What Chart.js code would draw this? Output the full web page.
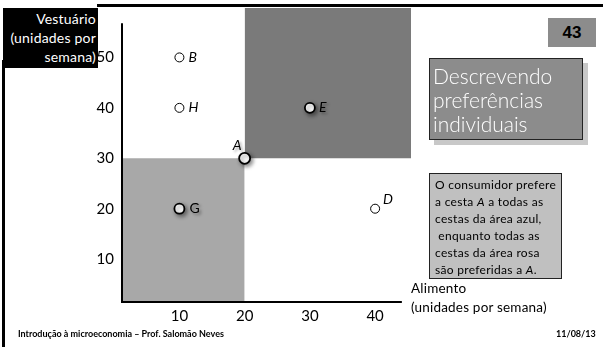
<!DOCTYPE html>
<html>
<head>
<meta charset="utf-8">
<script src="https://cdn.jsdelivr.net/npm/chart.js@4.4.0/dist/chart.umd.min.js"></script>
<style>
  body { margin: 0; width: 609px; height: 347px; overflow: hidden; background: #fff; font-family: "Lato", sans-serif; }
  #wrap { position: absolute; left: 0; top: 0; width: 609px; height: 347px; }
  .abs { position: absolute; }
  #ylab { left: 3px; top: 8px; width: 95px; height: 60px; background: #000; color: #fff; font-size: 14px; letter-spacing: 0.2px; line-height: 19px; text-align: right; box-sizing: border-box; padding: 1px 2px 0 0; }
  #topline { left: 97px; top: 4px; width: 506px; height: 3px; background: #000; }
  #leftline { left: 2px; top: 60px; width: 3px; height: 287px; background: #000; }
  #num { left: 548px; top: 18px; width: 48px; height: 29px; background: #8c8c8c; font-family: "Liberation Sans", Arial, sans-serif; font-weight: bold; font-size: 17px; line-height: 29px; text-align: center; }
  #title { left: 429px; top: 58px; width: 154px; height: 82px; background: #8c8c8c; border: 1px solid #222; box-sizing: border-box; color: #fff; font-size: 21px; font-weight: 300; line-height: 24px; padding: 5px 0 0 3px; box-shadow: 5px 5px 0 #c8c8c8; }
  #note { left: 429px; top: 173px; width: 133px; height: 106px; background: #c0c0c0; border: 1px solid #222; box-sizing: border-box; font-size: 12px; letter-spacing: 0.3px; line-height: 17px; padding: 2px 0 0 5px; white-space: pre; }
  #xlab { left: 411px; top: 279px; font-size: 13.5px; letter-spacing: 0.2px; line-height: 19px; white-space: pre; }
  #foot { left: 18px; top: 328px; font-size: 9px; font-weight: bold; }
  #date { left: 556px; top: 328px; font-size: 9px; font-weight: bold; }
</style>
</head>
<body>
<div id="wrap">
  <canvas id="chart" width="609" height="347"></canvas>
</div>
<div class="abs" id="topline"></div>
<div class="abs" id="leftline"></div>
<div class="abs" id="ylab">Vestuário<br>(unidades por<br>semana)</div>
<div class="abs" id="num">43</div>
<div class="abs" id="title">Descrevendo<br>preferências<br>individuais</div>
<div class="abs" id="note">O consumidor prefere
a cesta <i>A</i> a todas as
cestas da área azul,
 enquanto todas as
cestas da área rosa
são preferidas a <i>A</i>.</div>
<div class="abs" id="xlab">Alimento
(unidades por semana)</div>
<div class="abs" id="foot">Introdução à microeconomia – Prof. Salomão Neves</div>
<div class="abs" id="date">11/08/13</div>

<script>
// baskets
const basketLabels = ['B', 'H', 'E', 'A', 'G', 'D'];
const foodUnits = [10, 10, 30, 20, 10, 40];
const clothingUnits = [50, 40, 40, 30, 20, 20];

// shaded regions (corners in data units)
const worseX = [0, 20];
const worseY = [0, 30];
const betterX = [20, 45.5];
const betterY = [30, 59.8];

const xTicks = [10, 20, 30, 40];
const yTicks = [10, 20, 30, 40, 50];
const xAxisEnd = 44.1;
const yAxisEnd = 56.8;

const bold = ['E', 'A', 'G'];
const labelStyle = {
    B: { dx: 9, dy: 0, italic: true },
    H: { dx: 9, dy: 0, italic: true },
    E: { dx: 9, dy: 0, italic: true },
    A: { dx: -12, dy: -13, italic: true },
    G: { dx: 10, dy: 0, italic: false },
    D: { dx: 8, dy: -9, italic: true }
};

function pts(filterFn) {
    const out = [];
    basketLabels.forEach((l, i) => {
        if (filterFn(l)) out.push({ x: foodUnits[i], y: clothingUnits[i], label: l });
    });
    return out;
}

const shadowPlugin = {
    id: 'shadow',
    beforeDatasetDraw(chart, args) {
        const ctx = chart.ctx;
        ctx.save();
        if (chart.data.datasets[args.index].shadow) {
            ctx.shadowColor = 'rgba(0,0,0,0.45)';
            ctx.shadowBlur = 4;
            ctx.shadowOffsetX = 2;
            ctx.shadowOffsetY = 2;
        }
    },
    afterDatasetDraw(chart) {
        chart.ctx.restore();
    }
};

const axesPlugin = {
    id: 'axes',
    afterDatasetDraw(chart, args) {
        if (args.index !== 0) return;
        const { ctx, scales: { x, y } } = chart;
        ctx.save();
        ctx.strokeStyle = '#000';
        ctx.lineWidth = 2;
        ctx.beginPath();
        ctx.moveTo(x.getPixelForValue(x.min), y.getPixelForValue(yAxisEnd));
        ctx.lineTo(x.getPixelForValue(x.min), y.getPixelForValue(y.min));
        ctx.lineTo(x.getPixelForValue(xAxisEnd), y.getPixelForValue(y.min));
        ctx.stroke();
        ctx.restore();
    }
};

const labelPlugin = {
    id: 'pointLabels',
    afterDatasetsDraw(chart) {
        const { ctx, scales: { x, y } } = chart;
        ctx.save();
        ctx.textBaseline = 'middle';
        ctx.textAlign = 'left';
        ctx.fillStyle = '#000';
        basketLabels.forEach((l, i) => {
            const s = labelStyle[l];
            ctx.font = (s.italic ? 'italic ' : '') + '14px Lato, sans-serif';
            if (bold.includes(l)) {
                ctx.shadowColor = 'rgba(0,0,0,0.4)';
                ctx.shadowBlur = 3;
                ctx.shadowOffsetX = 2;
                ctx.shadowOffsetY = 2;
            } else {
                ctx.shadowColor = 'transparent';
            }
            ctx.fillText(l, x.getPixelForValue(foodUnits[i]) + s.dx, y.getPixelForValue(clothingUnits[i]) + s.dy);
        });
        ctx.restore();
    }
};

new Chart(document.getElementById('chart'), {
    type: 'scatter',
    data: {
        datasets: [
            {
                type: 'line',
                order: 10,
                data: [{ x: worseX[0], y: worseY[1] }, { x: worseX[1], y: worseY[1] }],
                fill: { value: worseY[0] },
                backgroundColor: '#a8a8a8',
                borderWidth: 0,
                pointRadius: 0
            },
            {
                type: 'line',
                order: 9,
                data: [{ x: betterX[0], y: betterY[1] }, { x: betterX[1], y: betterY[1] }],
                fill: { value: betterY[0] },
                backgroundColor: '#7a7a7a',
                borderWidth: 0,
                pointRadius: 0
            },
            {
                order: 1,
                data: pts(l => !bold.includes(l)),
                backgroundColor: '#fff',
                borderColor: '#000',
                borderWidth: 1,
                pointRadius: 4.5
            },
            {
                order: 0,
                data: pts(l => bold.includes(l)),
                shadow: true,
                backgroundColor: '#fff',
                borderColor: '#000',
                borderWidth: 1.8,
                pointRadius: ctx => ctx.raw && ctx.raw.label === 'A' ? 5.5 : 5
            }
        ]
    },
    options: {
        responsive: false,
        animation: false,
        events: [],
        layout: { padding: { top: 8, right: 198, left: 0, bottom: 0 } },
        plugins: { legend: { display: false }, tooltip: { enabled: false } },
        scales: {
            x: {
                type: 'linear',
                min: 1.2,
                max: betterX[1],
                grid: { display: false, drawTicks: false },
                border: { display: false },
                afterBuildTicks: s => { s.ticks = xTicks.map(v => ({ value: v })); },
                afterFit: s => { s.height = 45; s.paddingLeft = 0; s.paddingRight = 0; },
                ticks: { color: '#000', padding: 5, font: { size: 15, family: 'Lato' } }
            },
            y: {
                type: 'linear',
                min: 1.5,
                max: betterY[1],
                grid: { display: false, drawTicks: false },
                border: { display: false },
                afterBuildTicks: s => { s.ticks = yTicks.map(v => ({ value: v })); },
                afterFit: s => { s.width = 122; s.paddingTop = 0; s.paddingBottom = 0; },
                ticks: { color: '#000', padding: 8, font: { size: 15, family: 'Lato' } }
            }
        }
    },
    plugins: [axesPlugin, shadowPlugin, labelPlugin]
});
</script>
</body>
</html>
